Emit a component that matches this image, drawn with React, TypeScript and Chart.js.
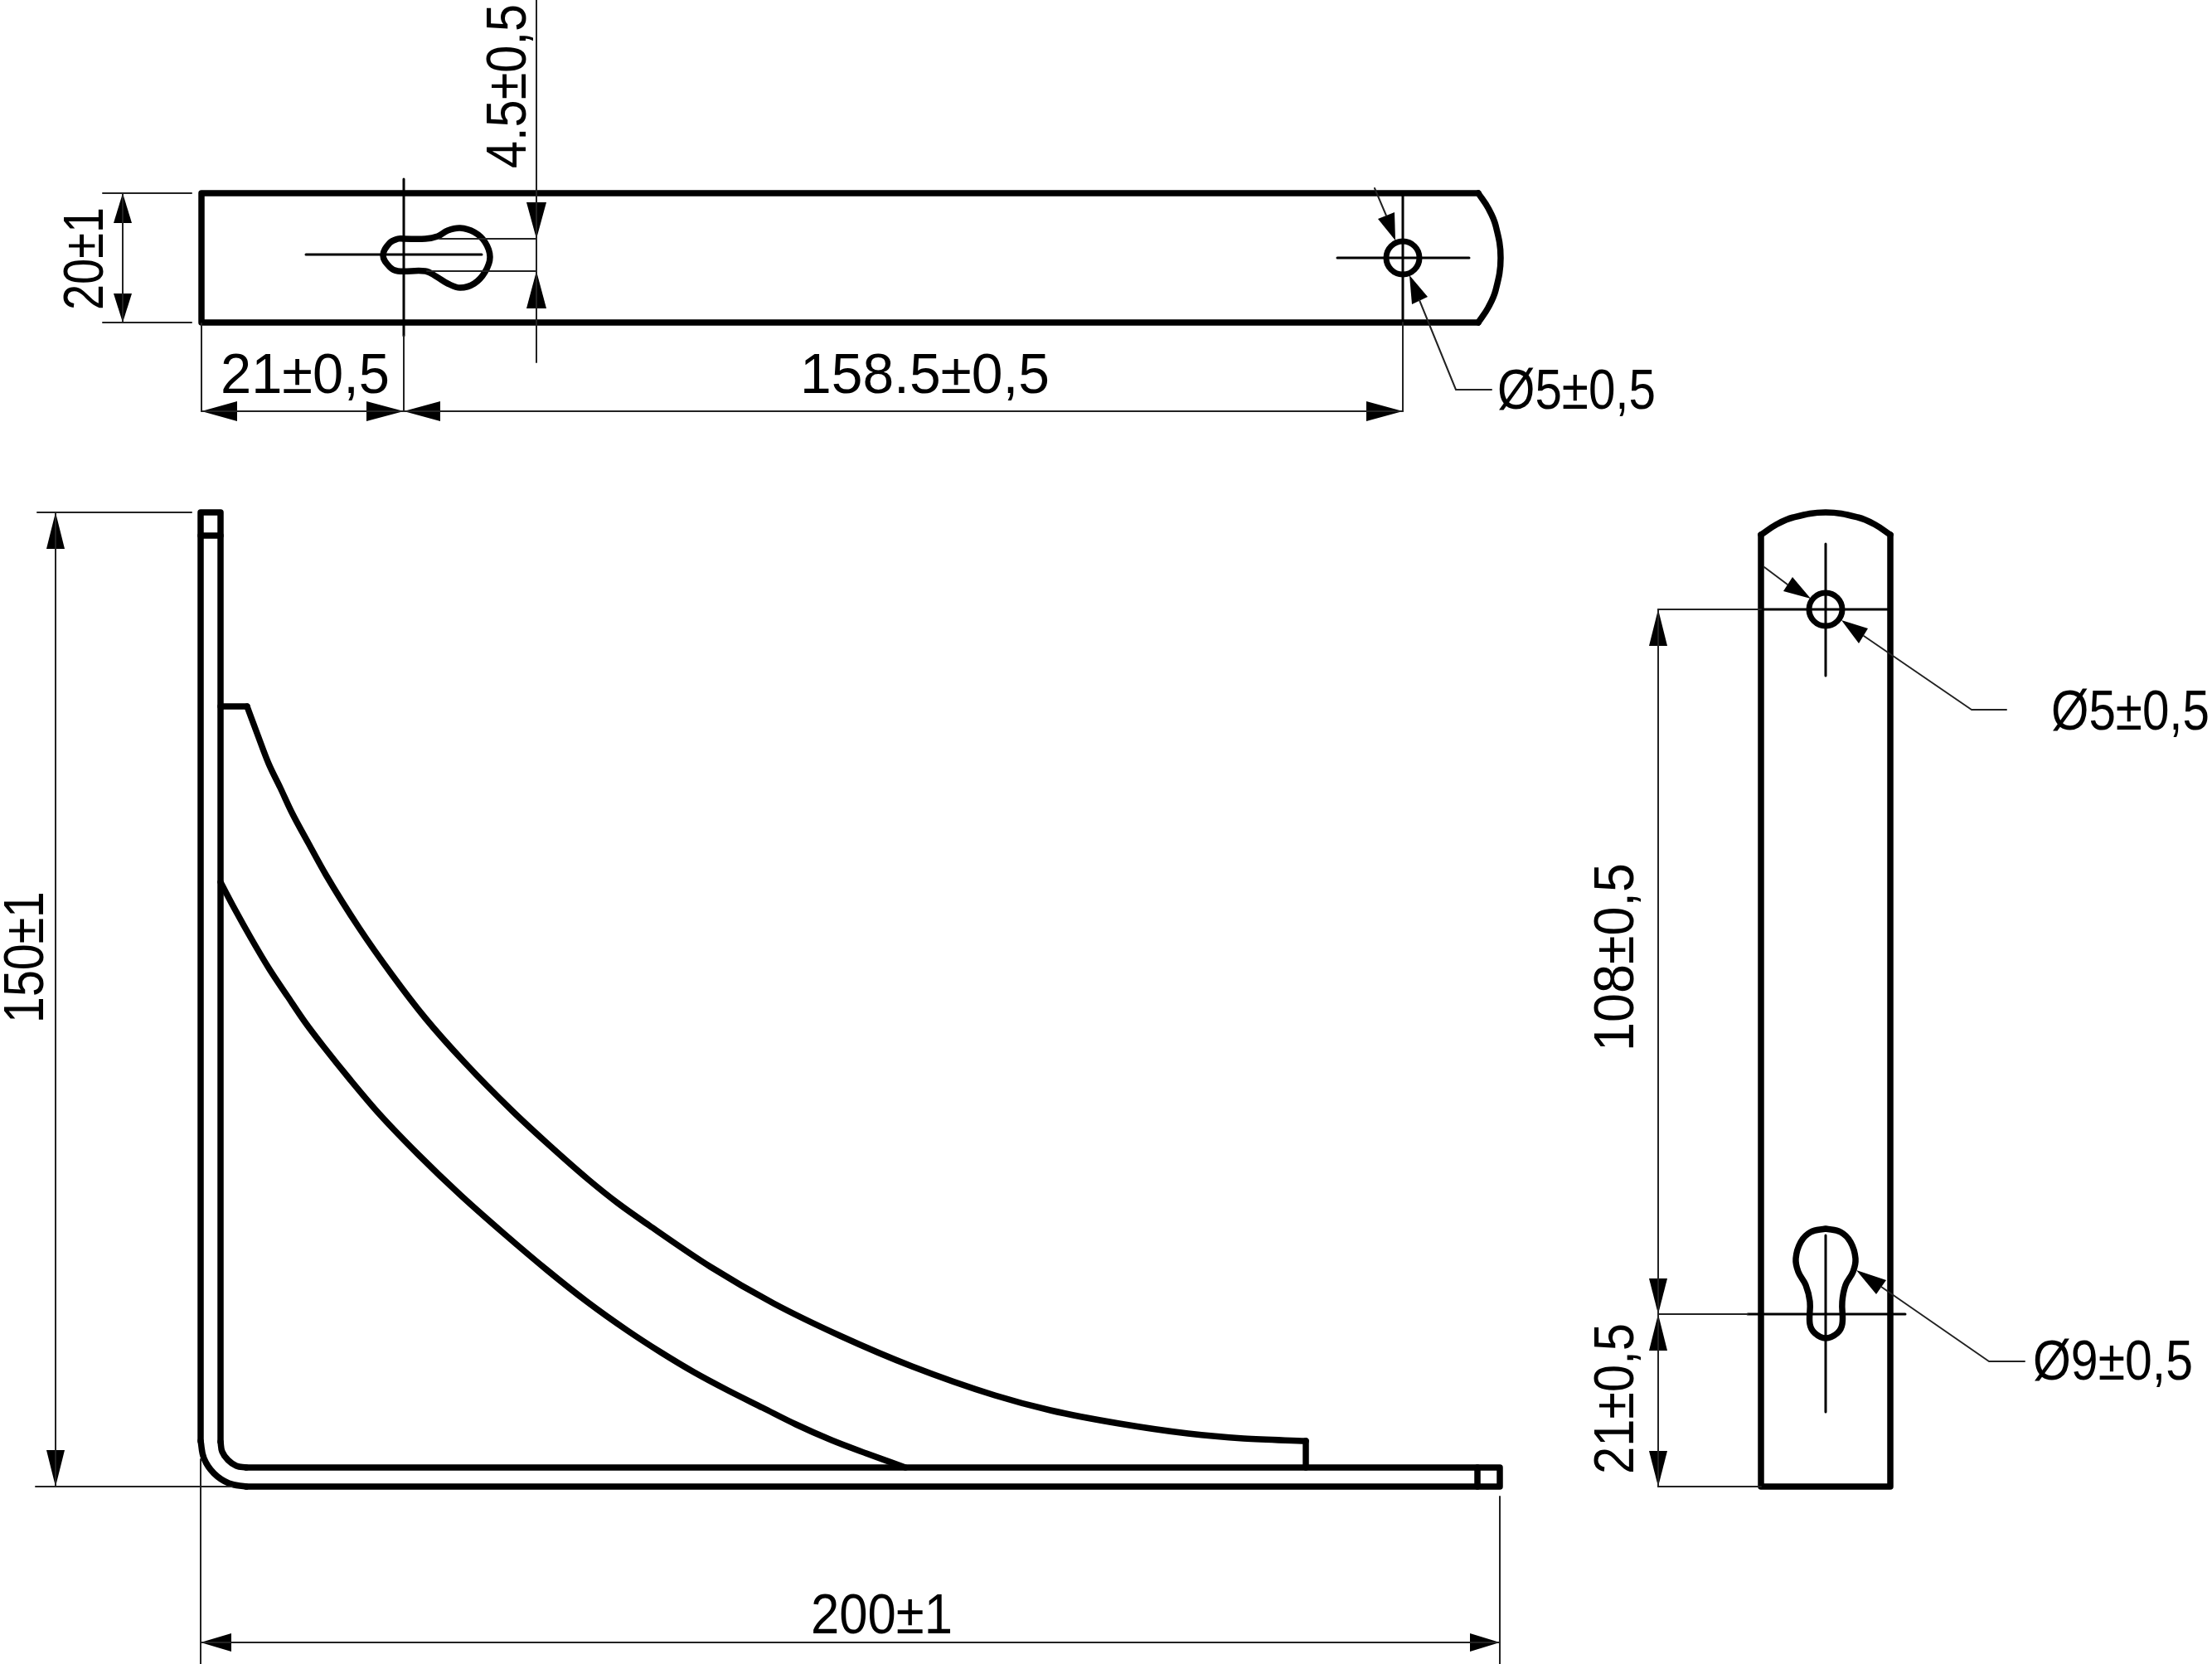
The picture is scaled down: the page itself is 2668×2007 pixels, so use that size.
import React, { useEffect, useRef } from 'react';
import { Chart, registerables } from 'chart.js';

Chart.register(...registerables);

type Pt = [number, number];

const PLATE_TOP_VIEW: Pt[][] = [
  [[1783, 233], [243, 233], [243, 389], [1783, 389]],
];
const PLATE_SIDE_VIEW: Pt[][] = [
  [[2124, 645], [2124, 1793], [2280, 1793], [2280, 645]],
];
const BRACKET_LINES: Pt[][] = [
  [[242, 1738], [242, 618], [266, 618], [266, 1739]],
  [[242, 646], [266, 646]],
  [[297, 1793], [1809, 1793], [1809, 1770], [297, 1770]],
  [[1782, 1770], [1782, 1793]],
  [[266, 852], [298, 852]],
  [[1575, 1738], [1575, 1770]],
];
const CURVED_LINES: Pt[][] = [
  // plate ends
  [[1783, 233], [1795, 251], [1804, 272], [1810, 311], [1804, 350], [1795, 371], [1783, 389]],
  [[2124, 645], [2142, 633], [2163, 624], [2202, 618], [2241, 624], [2262, 633], [2280, 645]],
  // bend of the bracket
  [[242, 1738], [246, 1759], [258, 1777], [276, 1789], [297, 1793]],
  [[266, 1739], [268, 1751], [275, 1761], [285, 1768], [297, 1770]],
  // keyholes
  [[487, 288], [513, 288], [528, 285], [540, 278], [555, 275], [572, 280], [585, 292], [591, 310], [585, 328], [572, 342], [555, 347], [540, 342], [527, 334], [513, 327], [480, 327], [470, 322], [462, 308], [470, 293], [480, 288], [487, 288]],
  [[2202, 1482], [2220, 1486], [2232, 1498], [2238, 1518], [2235, 1534], [2226, 1550], [2222, 1570], [2222, 1597], [2216, 1608], [2202, 1614], [2189, 1608], [2183, 1597], [2183, 1570], [2178, 1550], [2169, 1534], [2166, 1518], [2172, 1498], [2184, 1486], [2202, 1482]],
];
const RIB_EDGES: Pt[][] = [
  [[298, 852], [311, 887], [324, 921], [338, 950], [352, 980], [372, 1017], [393, 1055], [433, 1119], [473, 1176], [513, 1228], [560, 1281], [618, 1340], [660, 1379], [710, 1423], [745, 1451], [783, 1478], [857, 1528], [933, 1572], [1013, 1611], [1100, 1648], [1200, 1683], [1267, 1701], [1350, 1717], [1433, 1729], [1500, 1735], [1575, 1738]],
  [[266, 1064], [284, 1098], [303, 1132], [325, 1169], [347, 1202], [368, 1233], [390, 1262], [423, 1303], [457, 1343], [505, 1393], [555, 1441], [608, 1488], [660, 1532], [708, 1570], [757, 1605], [797, 1631], [837, 1655], [878, 1677], [920, 1698], [960, 1718], [1003, 1737], [1045, 1753], [1092, 1770]],
];
const CENTER_LINES: Pt[][] = [
  [[369, 307], [581, 307]],
  [[487, 216], [487, 405]],
  [[1613, 311], [1772, 311]],
  [[1692, 233], [1692, 389]],
  [[2202, 656], [2202, 815]],
  [[2124, 735], [2280, 735]],
  [[2202, 1490], [2202, 1703]],
  [[2108, 1585], [2298, 1585]],
];
const THIN_LINES: Pt[][] = [
  // top view dimensions
  [[124, 233], [231, 233]],
  [[124, 389], [231, 389]],
  [[148, 233], [148, 389]],
  [[243, 390], [243, 496]],
  [[487, 405], [487, 496]],
  [[1692, 389], [1692, 496]],
  [[243, 496], [1692, 496]],
  [[647, 0], [647, 437]],
  [[530, 288], [647, 288]],
  [[515, 327], [647, 327]],
  // leaders
  [[1658, 227], [1672, 260]],
  [[1712, 362], [1756, 470], [1799, 470]],
  [[2128, 684], [2156, 705]],
  [[2248, 767], [2378, 856], [2420, 856]],
  [[2269, 1552], [2399, 1642], [2442, 1642]],
  // bracket dimensions
  [[45, 618], [231, 618]],
  [[43, 1793], [280, 1793]],
  [[67, 618], [67, 1793]],
  [[242, 1760], [242, 2007]],
  [[1809, 1805], [1809, 2007]],
  [[242, 1981], [1809, 1981]],
  // side view dimensions
  [[2000, 735], [2124, 735]],
  [[2000, 1585], [2108, 1585]],
  [[2000, 1793], [2124, 1793]],
  [[2000, 735], [2000, 1793]],
];
const ARROW_HEADS: Pt[][] = [
  [[148, 233], [137, 269], [159, 269]],
  [[148, 389], [137, 354], [159, 354]],
  [[647, 288], [635, 244], [659, 244]],
  [[647, 327], [635, 372], [659, 372]],
  [[243, 496], [286, 484], [286, 508]],
  [[487, 496], [442, 484], [442, 508]],
  [[487, 496], [531, 484], [531, 508]],
  [[1692, 496], [1648, 484], [1648, 508]],
  [[1683, 290], [1662, 264], [1682, 256]],
  [[1700, 332], [1703, 367], [1722, 358]],
  [[2184, 722], [2162, 696], [2151, 713]],
  [[2221, 748], [2253, 758], [2242, 776]],
  [[2239, 1532], [2275, 1544], [2263, 1561]],
  [[67, 618], [56, 662], [78, 662]],
  [[67, 1793], [56, 1749], [78, 1749]],
  [[242, 1981], [279, 1970], [279, 1992]],
  [[1809, 1981], [1773, 1970], [1773, 1992]],
  [[2000, 735], [1989, 779], [2011, 779]],
  [[2000, 1585], [1989, 1542], [2011, 1542]],
  [[2000, 1585], [1989, 1629], [2011, 1629]],
  [[2000, 1793], [1989, 1750], [2011, 1750]],
];
const HOLE_CENTERS: Pt[] = [[1692, 311], [2202, 735]];

const LABEL_TEXTS = ['4.5±0,5', '20±1', '21±0,5', '158.5±0,5', 'Ø5±0,5', '150±1', '200±1', 'Ø5±0,5', '108±0,5', '21±0,5', 'Ø9±0,5'];
// start of the baseline and run length of each label
const LABEL_X = [634, 124, 266, 965, 1806, 52, 978, 2474, 1970, 1970, 2452];
const LABEL_Y = [203, 374, 474, 474, 493, 1234, 1970, 880, 1268, 1778, 1664];
const LABEL_LEN = [198, 124, 204, 301, 191, 159, 171, 191, 227, 182, 193];
const LABEL_UPRIGHT = [true, true, false, false, false, true, false, false, true, true, false];

const toData = (pts: Pt[]) => pts.map(([x, y]) => ({ x, y }));

const lineSet = (pts: Pt[], borderWidth: number, color: string, tension = 0) => ({
  data: toData(pts),
  showLine: true,
  pointRadius: 0,
  borderColor: color,
  borderWidth,
  tension,
  borderCapStyle: 'round' as const,
  borderJoinStyle: 'round' as const,
});

const labelPlugin = {
  id: 'dimensionLabels',
  afterDatasetsDraw(chart: any) {
    const { ctx, scales } = chart;
    LABEL_TEXTS.forEach((text, i) => {
      ctx.save();
      ctx.translate(scales.x.getPixelForValue(LABEL_X[i]), scales.y.getPixelForValue(LABEL_Y[i]));
      if (LABEL_UPRIGHT[i]) ctx.rotate(-Math.PI / 2);
      ctx.font = '68px "Liberation Sans"';
      ctx.fillStyle = '#000';
      ctx.textBaseline = 'alphabetic';
      ctx.scale(LABEL_LEN[i] / ctx.measureText(text).width, 1);
      ctx.fillText(text, 0, 0);
      ctx.restore();
    });
  },
};

const App: React.FC = () => {
  const canvasRef = useRef<HTMLCanvasElement>(null);

  useEffect(() => {
    document.body.style.margin = '0';
    if (!canvasRef.current) return;
    const datasets: any[] = [
      ...THIN_LINES.map(p => lineSet(p, 2, '#222')),
      ...CENTER_LINES.map(p => lineSet(p, 3, '#000')),
      ...PLATE_TOP_VIEW.map(p => lineSet(p, 7.5, '#000')),
      ...PLATE_SIDE_VIEW.map(p => lineSet(p, 7.5, '#000')),
      ...BRACKET_LINES.map(p => lineSet(p, 7.5, '#000')),
      ...CURVED_LINES.map(p => lineSet(p, 7.5, '#000', 0.4)),
      ...RIB_EDGES.map(p => ({ ...lineSet(p, 7.5, '#000'), cubicInterpolationMode: 'monotone' })),
      ...ARROW_HEADS.map(p => ({
        data: toData(p),
        showLine: true,
        pointRadius: 0,
        borderWidth: 0,
        fill: 'shape',
        backgroundColor: '#000',
      })),
      {
        data: toData(HOLE_CENTERS),
        showLine: false,
        pointStyle: 'circle',
        pointRadius: 20,
        pointBorderWidth: 7,
        pointBorderColor: '#000',
        pointBackgroundColor: 'rgba(0,0,0,0)',
      },
    ];
    const chart = new Chart(canvasRef.current, {
      type: 'scatter',
      data: { datasets },
      options: {
        animation: false,
        responsive: false,
        devicePixelRatio: 1,
        layout: { padding: 0, autoPadding: false },
        plugins: { legend: { display: false }, tooltip: { enabled: false } },
        scales: {
          x: { type: 'linear', display: false, min: 0, max: 2668 },
          y: { type: 'linear', display: false, min: 0, max: 2007, reverse: true },
        },
      },
      plugins: [labelPlugin],
    });
    return () => chart.destroy();
  }, []);

  return <canvas ref={canvasRef} width={2668} height={2007} style={{ display: 'block' }} />;
};

export default App;
